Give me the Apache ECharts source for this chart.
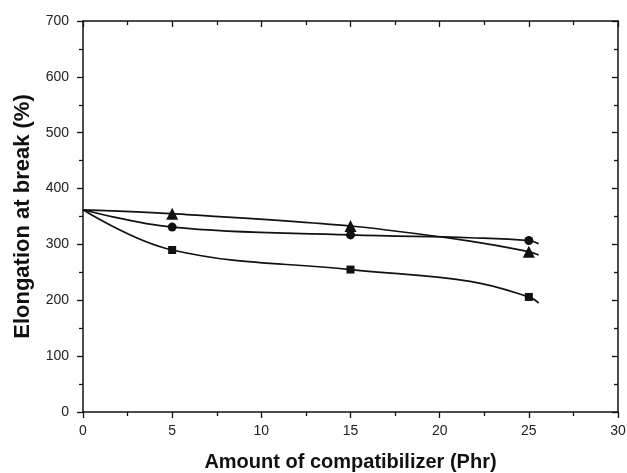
<!DOCTYPE html>
<html><head><meta charset="utf-8">
<script src="https://cdn.jsdelivr.net/npm/echarts@6/dist/echarts.min.js"></script>
<style>html,body{margin:0;padding:0;background:#fff}#c{width:627px;height:473px}</style>
</head><body><div id="c"></div>
<script>
// measured data points (markers)
var xValues = [0, 5, 15, 25];
var triangleY = [362, 355, 333, 287];
var circleY = [362, 331, 317, 307];
var squareY = [362, 290, 255, 206];
// values (no marker)
var curveReadX = [21.7, 25.55];
var triangleCurve = [306, 281];
var circleCurve = [312, 301];
var squareCurve = [234, 195];
var xTicks = [0, 5, 10, 15, 20, 25, 30];
var yTicks = [0, 100, 200, 300, 400, 500, 600, 700];

function build(ys, curveYs) {
  var pts = xValues.map(function (x, i) {
    return i === 0 ? { value: [x, ys[i]], symbol: 'none' } : { value: [x, ys[i]] };
  });
  curveReadX.forEach(function (x, i) { pts.push({ value: [x, curveYs[i]], symbol: 'none' }); });
  pts.sort(function (a, b) { return a.value[0] - b.value[0]; });
  return pts;
}
var font = 'Liberation Sans, Arial, sans-serif';
var chart = echarts.init(document.getElementById('c'));
var common = { type: 'line', smooth: 0.4, lineStyle: { color: '#111', width: 1.7 }, itemStyle: { color: '#111' }, z: 3 };
var lineS = { show: true, onZero: false, lineStyle: { color: '#111', width: 1.5 } };
var tickS = { color: '#111', width: 1.3 };
chart.setOption({
  animation: false,
  grid: { left: 83, right: 9, top: 21, bottom: 61, outerBoundsMode: 'none', containLabel: false },
  xAxis: [{
    type: 'value', min: 0, max: 30, interval: 5,
    name: 'Amount of compatibilizer (Phr)', nameLocation: 'middle', nameGap: 40,
    nameTextStyle: { fontFamily: font, fontWeight: 'bold', fontSize: 20, color: '#111' },
    axisLine: lineS,
    axisTick: { show: true, length: 6, lineStyle: tickS },
    minorTick: { show: true, splitNumber: 2, length: 4, lineStyle: tickS },
    axisLabel: { fontFamily: font, fontSize: 14, color: '#222', margin: 12, formatter: function (v) { return xTicks.indexOf(v) >= 0 ? String(v) : ''; } },
    splitLine: { show: false }
  }, {
    type: 'value', min: 0, max: 30, interval: 5, position: 'top',
    axisLine: lineS,
    axisTick: { show: true, inside: true, length: 6, lineStyle: tickS },
    minorTick: { show: true, splitNumber: 2, length: 4, lineStyle: tickS },
    axisLabel: { show: false }, splitLine: { show: false }
  }],
  yAxis: [{
    type: 'value', min: 0, max: 700, interval: 100,
    name: 'Elongation at break (%)', nameLocation: 'middle', nameGap: 49, nameRotate: 90,
    nameTextStyle: { fontFamily: font, fontWeight: 'bold', fontSize: 22, color: '#111' },
    axisLine: lineS,
    axisTick: { show: true, length: 6, lineStyle: tickS },
    minorTick: { show: true, splitNumber: 2, length: 4, lineStyle: tickS },
    axisLabel: { fontFamily: font, fontSize: 14, color: '#222', margin: 14, formatter: function (v) { return yTicks.indexOf(v) >= 0 ? String(v) : ''; } },
    splitLine: { show: false }
  }, {
    type: 'value', min: 0, max: 700, interval: 100, position: 'right',
    axisLine: lineS,
    axisTick: { show: true, inside: true, length: 6, lineStyle: tickS },
    minorTick: { show: true, splitNumber: 2, length: 4, lineStyle: tickS },
    axisLabel: { show: false }, splitLine: { show: false }
  }],
  series: [
    Object.assign({}, common, { name: 'triangle', symbol: 'triangle', symbolSize: 12, data: build(triangleY, triangleCurve), smooth: 0.3 }),
    Object.assign({}, common, { name: 'circle', symbol: 'circle', symbolSize: 9, data: build(circleY, circleCurve) }),
    Object.assign({}, common, { name: 'square', symbol: 'rect', symbolSize: 8, data: build(squareY, squareCurve) })
  ]
});
</script></body></html>
